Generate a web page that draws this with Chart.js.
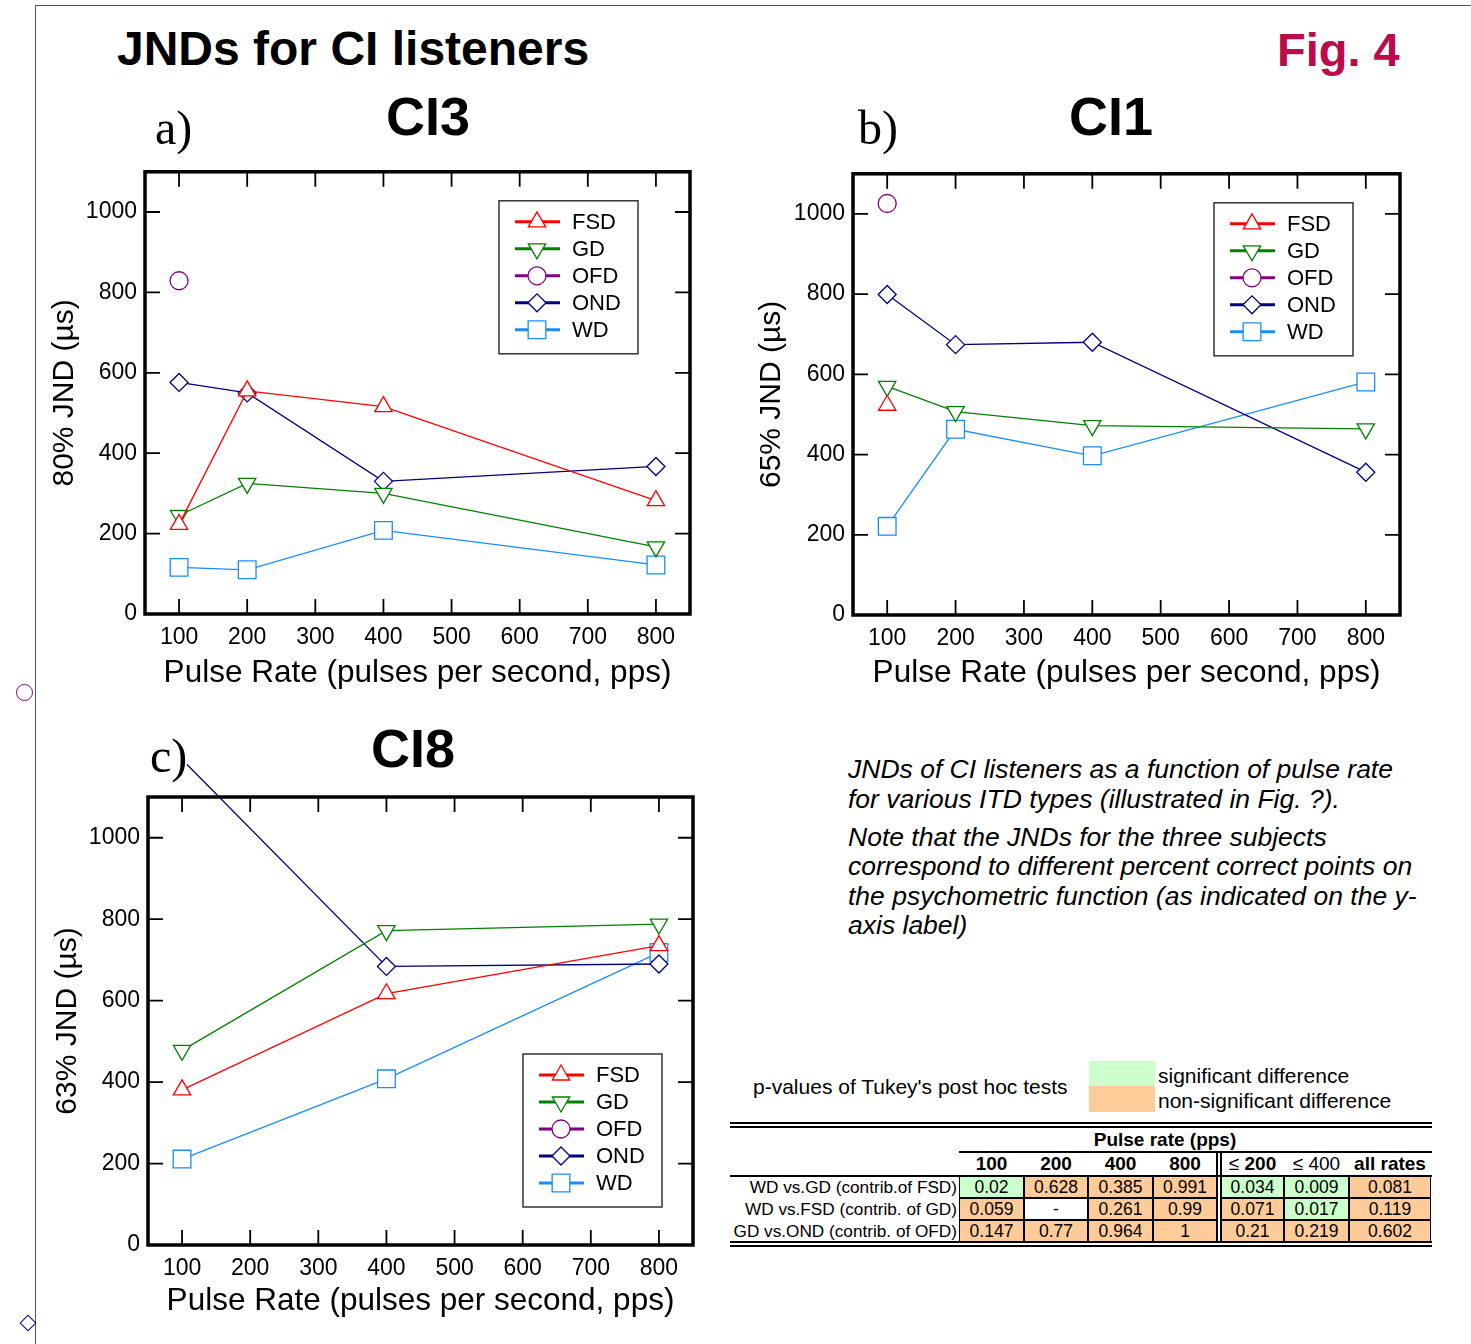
<!DOCTYPE html>
<html>
<head>
<meta charset="utf-8">
<script src="https://cdn.jsdelivr.net/npm/chart.js@4.4.0/dist/chart.umd.min.js"></script>
<style>
  body { margin: 0; background: #fff; font-family: "Liberation Sans", Arial, sans-serif; }
  #page { position: relative; width: 1471px; height: 1344px; overflow: hidden; background: #fff; }
  canvas { position: absolute; }
  .txt { position: absolute; line-height: 1; white-space: nowrap; z-index: 2; color: #000; }
  .head { font-weight: bold; }
  .panel { font-family: "Liberation Serif", "Times New Roman", serif; background: #fff; }
  #note { position: absolute; left: 848px; top: 755px; font-style: italic; font-size: 26.5px; line-height: 29.5px; white-space: nowrap; }
  #note p { margin: 0 0 8.5px 0; }
  .cell { position: absolute; box-sizing: border-box; font-size: 17.5px; display: flex; align-items: center; justify-content: center; white-space: nowrap; }
  .hl { position: absolute; background: #000; }
</style>
</head>
<body>
<div id="page">
  <!-- sheet edge lines -->
  <div class="hl" style="left:35px; top:5px; width:1px; height:1339px; background:#555;"></div>
  <div class="hl" style="left:35px; top:5px; width:1436px; height:1px; background:#555;"></div>
  <div style="position:absolute; left:16px; top:684px; width:17px; height:17px; border:1.3px solid #800080; border-radius:50%; box-sizing:border-box;"></div>
  <div style="position:absolute; left:22px; top:1317px; width:12px; height:12px; border:1.3px solid #000080; transform:rotate(45deg); box-sizing:border-box;"></div>

  <canvas id="chartA" width="670" height="560" style="left:40px; top:150px;"></canvas>
  <canvas id="chartB" width="674" height="560" style="left:746px; top:152px;"></canvas>
  <canvas id="chartC" width="671" height="600" style="left:42px; top:740px;"></canvas>

  <div class="txt head" style="left:117px; top:25px; font-size:48px;">JNDs for CI listeners</div>
  <div class="txt head" style="left:1277px; top:26px; font-size:47px; color:#bd0a4a;">Fig. 4</div>

  <div class="txt panel" style="left:155px; top:104px; font-size:48px;">a)</div>
  <div class="txt head" style="left:428px; top:89px; font-size:54px; transform:translateX(-50%);">CI3</div>
  <div class="txt panel" style="left:858px; top:104px; font-size:48px;">b)</div>
  <div class="txt head" style="left:1111px; top:89px; font-size:54px; transform:translateX(-50%);">CI1</div>
  <div class="txt panel" style="left:150px; top:732px; font-size:48px;">c)</div>
  <div class="txt head" style="left:413px; top:721px; font-size:54px; transform:translateX(-50%);">CI8</div>

  <div id="note">
    <p>JNDs of CI listeners as a function of pulse rate<br>for various ITD types (illustrated in Fig. ?).</p>
    <p>Note that the JNDs for the three subjects<br>correspond to different percent correct points on<br>the psychometric function (as indicated on the y-<br>axis label)</p>
  </div>

  <div class="txt" style="left:753px; top:1076px; font-size:21px;">p-values of Tukey's post hoc tests</div>
  <div style="position:absolute; left:1089px; top:1061px; width:66px; height:25px; background:#ccffcc;"></div>
  <div style="position:absolute; left:1089px; top:1086px; width:66px; height:26px; background:#ffcc99;"></div>
  <div class="txt" style="left:1158px; top:1065px; font-size:21px;">significant difference</div>
  <div class="txt" style="left:1158px; top:1090px; font-size:21px;">non-significant difference</div>

  <div id="table"></div>
</div>

<script>
// Pulse rates and axis ticks
const rates = [100, 200, 400, 800];
const xTicks = [100, 200, 300, 400, 500, 600, 700, 800];
const yTicks = [0, 200, 400, 600, 800, 1000];
const seriesNames = ['FSD', 'GD', 'OFD', 'OND', 'WD'];

// CI3 (80% JND, µs)
const ci3FSD = [223, 555, 516, 282];
const ci3GD = [245, 325, 300, 167];
const ci3OFD = [829, null, null, null];
const ci3OND = [576, 550, 330, 367];
const ci3WD = [116, 110, 208, 122];

// CI1 (65% JND, µs)
const ci1FSD = [523, null, null, null];
const ci1GD = [570, 507, 472, 464];
const ci1OFD = [1026, null, null, null];
const ci1OND = [799, 674, 680, 356];
const ci1WD = [221, 463, 397, 581];

// CI8 (63% JND, µs) - no 200 pps condition
const ci8FSD = [381, null, 617, 735];
const ci8GD = [478, null, 772, 788];
const ci8OFD = [null, null, null, null];
const ci8OND = [1192, null, 684, 690];
const ci8WD = [211, null, 408, 718];

// Tukey p-values table
const tableCols = ['100', '200', '400', '800', '≤ 200', '≤ 400', 'all rates'];
const tableRows = ['WD vs.GD (contrib.of FSD)', 'WD vs.FSD (contrib. of GD)', 'GD vs.OND (contrib. of OFD)'];
const pWdGd = [0.02, 0.628, 0.385, 0.991, 0.034, 0.009, 0.081];
const pWdFsd = [0.059, null, 0.261, 0.99, 0.071, 0.017, 0.119];
const pGdOnd = [0.147, 0.77, 0.964, 1, 0.21, 0.219, 0.602];

// marker styles per series
const styles = {
  FSD: { color: '#ff0000', shape: 'triangle', rot: 0, r: 10 },
  GD: { color: '#008000', shape: 'triangle', rot: 180, r: 10 },
  OFD: { color: '#800080', shape: 'circle', rot: 0, r: 9 },
  OND: { color: '#000080', shape: 'rectRot', rot: 0, r: 9 },
  WD: { color: '#1a8cff', shape: 'rect', rot: 0, r: 12.5 }
};

function drawMarker(ctx, st, x, y) {
  const r = st.r;
  ctx.beginPath();
  if (st.shape === 'circle') {
    ctx.arc(x, y, r, 0, Math.PI * 2);
  } else if (st.shape === 'rect') {
    const s = r * Math.SQRT1_2;
    ctx.rect(x - s, y - s, 2 * s, 2 * s);
  } else if (st.shape === 'rectRot') {
    ctx.moveTo(x - r, y); ctx.lineTo(x, y - r); ctx.lineTo(x + r, y); ctx.lineTo(x, y + r);
    ctx.closePath();
  } else {
    let rad = st.rot * Math.PI / 180;
    ctx.moveTo(x + Math.sin(rad) * r, y - Math.cos(rad) * r);
    rad += 2 * Math.PI / 3;
    ctx.lineTo(x + Math.sin(rad) * r, y - Math.cos(rad) * r);
    rad += 2 * Math.PI / 3;
    ctx.lineTo(x + Math.sin(rad) * r, y - Math.cos(rad) * r);
    ctx.closePath();
  }
  ctx.fill();
  ctx.stroke();
}

// thick frame plus inward ticks on all four sides
const framePlugin = {
  id: 'frame',
  afterDraw(chart) {
    const { ctx, chartArea: a, scales } = chart;
    ctx.save();
    ctx.strokeStyle = '#000';
    ctx.lineWidth = 1.8;
    scales.x.ticks.forEach(t => {
      const px = scales.x.getPixelForValue(t.value);
      ctx.beginPath();
      ctx.moveTo(px, a.bottom); ctx.lineTo(px, a.bottom - 15);
      ctx.moveTo(px, a.top); ctx.lineTo(px, a.top + 15);
      ctx.stroke();
    });
    scales.y.ticks.forEach(t => {
      const py = scales.y.getPixelForValue(t.value);
      ctx.beginPath();
      ctx.moveTo(a.left, py); ctx.lineTo(a.left + 15, py);
      ctx.moveTo(a.right, py); ctx.lineTo(a.right - 15, py);
      ctx.stroke();
    });
    ctx.lineWidth = 3.5;
    ctx.strokeRect(a.left, a.top, a.right - a.left, a.bottom - a.top);
    ctx.restore();
  }
};

// boxed legend inside the plot
const boxLegend = {
  id: 'boxLegend',
  afterDraw(chart, args, opts) {
    const { ctx, chartArea: a } = chart;
    const w = 139, h = 153;
    const left = a.right - opts.right - w;
    const top = opts.top != null ? a.top + opts.top : a.bottom - opts.bottom - h;
    ctx.save();
    ctx.fillStyle = '#fff';
    ctx.fillRect(left, top, w, h);
    ctx.strokeStyle = '#333';
    ctx.lineWidth = 1.5;
    ctx.strokeRect(left, top, w, h);
    chart.data.datasets.forEach((ds, i) => {
      const st = styles[ds.label];
      const y = top + 21 + i * 27;
      ctx.strokeStyle = st.color;
      ctx.lineWidth = 3;
      ctx.beginPath(); ctx.moveTo(left + 16, y); ctx.lineTo(left + 61, y); ctx.stroke();
      ctx.fillStyle = '#fff';
      ctx.lineWidth = 1.3;
      drawMarker(ctx, st, left + 38, y);
      ctx.fillStyle = '#000';
      ctx.font = '22px "Liberation Sans", Arial, sans-serif';
      ctx.textBaseline = 'middle';
      ctx.textAlign = 'left';
      ctx.fillText(ds.label, left + 73, y + 1);
    });
    ctx.restore();
  }
};

function makeChart(id, values, cfg) {
  const datasets = seriesNames.map((name, k) => {
    const st = styles[name];
    return {
      label: name,
      data: rates.map((r, i) => ({ x: r, y: values[k][i] })),
      borderColor: st.color,
      backgroundColor: '#fff',
      borderWidth: 1.3,
      pointStyle: st.shape,
      pointRotation: st.rot,
      pointRadius: cfg.hide && cfg.hide[name] ? cfg.hide[name] : st.r,
      pointBorderWidth: 1.3,
      pointBackgroundColor: '#fff',
      pointBorderColor: st.color,
      spanGaps: true,
      clip: false
    };
  });
  const tickFont = { family: '"Liberation Sans", Arial, sans-serif', size: 23 };
  const xTitleFont = { family: '"Liberation Sans", Arial, sans-serif', size: 31.5 };
  const yTitleFont = { family: '"Liberation Sans", Arial, sans-serif', size: 30 };
  return new Chart(document.getElementById(id).getContext('2d'), {
    type: 'line',
    data: { datasets },
    options: {
      responsive: false,
      animation: false,
      layout: { padding: { top: cfg.padTop, right: 20, left: 0, bottom: 0 } },
      plugins: {
        legend: { display: false },
        tooltip: { enabled: false },
        boxLegend: cfg.legend
      },
      scales: {
        x: {
          type: 'linear', min: 50, max: 850,
          afterBuildTicks: s => { s.ticks = xTicks.map(v => ({ value: v })); },
          afterFit: s => { s.height = cfg.xh; },
          grid: { display: false, drawTicks: false },
          border: { display: false },
          ticks: { padding: 10, font: tickFont, color: '#000', maxRotation: 0, callback: v => String(v) },
          title: { display: true, text: 'Pulse Rate (pulses per second, pps)', font: xTitleFont, color: '#000', padding: { top: 0, bottom: cfg.xtp } }
        },
        y: {
          type: 'linear', min: 0, max: 1100,
          afterBuildTicks: s => { s.ticks = yTicks.map(v => ({ value: v })); },
          afterFit: s => { s.width = cfg.yw; },
          grid: { display: false, drawTicks: false },
          border: { display: false },
          ticks: { padding: 8, font: tickFont, color: '#000', callback: v => String(v) },
          title: { display: true, text: cfg.yTitle, font: yTitleFont, color: '#000', padding: { top: cfg.ytp, bottom: 0 } }
        }
      }
    },
    plugins: [framePlugin, boxLegend]
  });
}

makeChart('chartA', [ci3FSD, ci3GD, ci3OFD, ci3OND, ci3WD], {
  padTop: 18, yw: 105, xh: 96, xtp: 18, ytp: 7, yTitle: '80% JND (µs)',
  legend: { right: 52, top: 29 }
});
makeChart('chartB', [ci1FSD, ci1GD, ci1OFD, ci1OND, ci1WD], {
  padTop: 18, yw: 107, xh: 97, xtp: 20, ytp: 7.6, yTitle: '65% JND (µs)',
  legend: { right: 47, top: 29 }
});
makeChart('chartC', [ci8FSD, ci8GD, ci8OFD, ci8OND, ci8WD], {
  padTop: 57, yw: 106, xh: 95, xtp: 20, ytp: 7.6, yTitle: '63% JND (µs)',
  legend: { right: 31, bottom: 38 },
  hide: { OND: [0, 9, 9, 9] }
});

// p-value table
const colEdges = [959, 1024, 1088, 1153, 1217, 1221, 1284, 1349, 1431];
const rowEdges = [1176, 1198, 1220, 1242];
const table = document.getElementById('table');
function addDiv(style, text, cls) {
  const d = document.createElement('div');
  d.className = cls || '';
  d.style.cssText = style;
  if (text != null) d.innerHTML = text;
  table.appendChild(d);
  return d;
}
function colSpan(c) {
  const l = c < 4 ? colEdges[c] : colEdges[c + 1];
  const r = c < 4 ? colEdges[c + 1] : colEdges[c + 2];
  return [l, r];
}
// horizontal rules
addDiv('left:730px; top:1122px; width:702px; height:2px;', null, 'hl');
addDiv('left:730px; top:1126px; width:702px; height:2px;', null, 'hl');
addDiv('left:959px; top:1151px; width:473px; height:2px;', null, 'hl');
addDiv('left:730px; top:1175px; width:702px; height:2px;', null, 'hl');
addDiv('left:730px; top:1241px; width:702px; height:2px;', null, 'hl');
addDiv('left:730px; top:1245px; width:702px; height:2px;', null, 'hl');
addDiv('left:1216px; top:1152px; width:2px; height:91px;', null, 'hl');
addDiv('left:1220px; top:1152px; width:2px; height:91px;', null, 'hl');
addDiv('left:1093px; top:1129px; width:144px; height:22px; font-weight:bold; font-size:19px;', 'Pulse rate (pps)', 'cell');
tableCols.forEach((c, i) => {
  const [l, r] = colSpan(i);
  let html = c;
  if (c === '≤ 200') html = '<span style="font-weight:normal">≤</span>&nbsp;200';
  if (c === '≤ 400') html = '<span style="font-weight:normal">≤&nbsp;400</span>';
  addDiv(`left:${l}px; top:1153px; width:${r - l}px; height:22px; font-weight:bold; font-size:19px;`, html, 'cell');
});
[pWdGd, pWdFsd, pGdOnd].forEach((vals, ri) => {
  const top = rowEdges[ri], h = rowEdges[ri + 1] - rowEdges[ri];
  addDiv(`left:730px; top:${top}px; width:227px; height:${h}px; justify-content:flex-end; font-size:17.2px;`, tableRows[ri], 'cell');
  vals.forEach((v, ci) => {
    const [l, r] = colSpan(ci);
    const bg = v == null ? '#fff' : (v < 0.05 ? '#ccffcc' : '#ffcc99');
    addDiv(`left:${l}px; top:${top}px; width:${r - l}px; height:${h}px; background:${bg}; border:1px solid #000;`,
      v == null ? '-' : String(v), 'cell');
  });
});
</script>
</body>
</html>
